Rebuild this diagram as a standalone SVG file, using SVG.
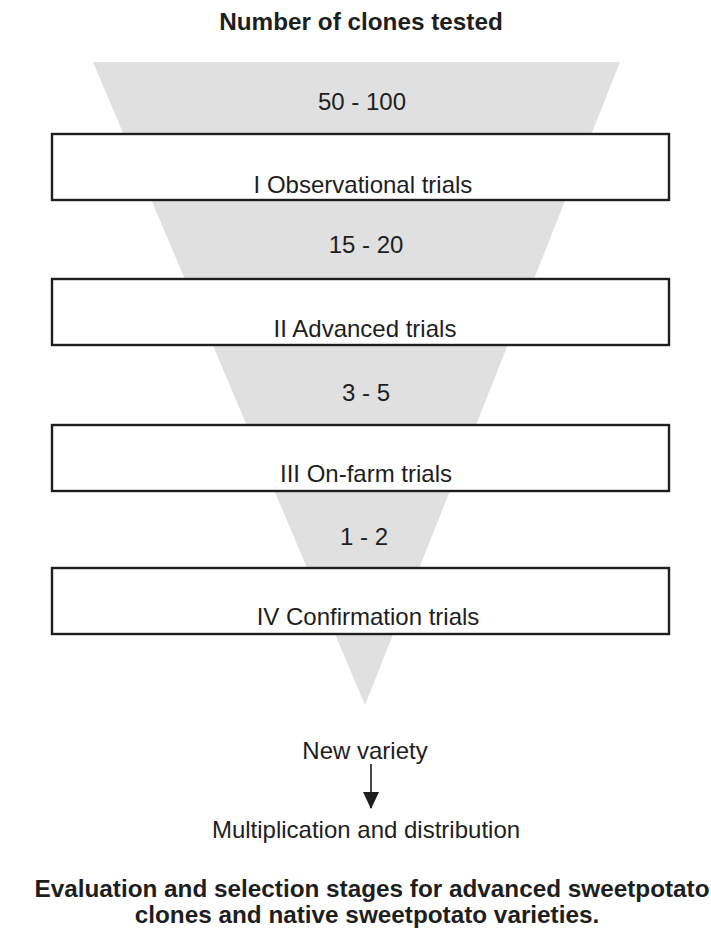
<svg xmlns="http://www.w3.org/2000/svg" width="711" height="930" viewBox="0 0 711 930">
  <style>
    text { font-family: "Liberation Sans", Arial, sans-serif; fill: #1e1e1e; text-anchor: middle; }
    .lbl { font-size: 24px; }
    .bold { font-size: 24.3px; font-weight: bold; }
    .stage { fill: #ffffff; stroke: #1e1e1e; stroke-width: 2.4; }
    .funnel { fill: #e0e0e0; }
    .conn { stroke: #1e1e1e; stroke-width: 1.6; fill: none; }
  </style>
  <defs>
    <marker id="arrow" markerWidth="18" markerHeight="16" refX="16" refY="8" orient="auto" markerUnits="userSpaceOnUse" viewBox="0 0 18 16">
      <path d="M0,0 L17,8 L0,16 Z" fill="#1e1e1e"/>
    </marker>
  </defs>

  <rect width="711" height="930" fill="#ffffff"/>

  <text id="heading" class="bold" x="361" y="30">Number of clones tested</text>

  <!-- narrowing funnel behind the stages -->
  <polygon id="funnel" class="funnel" points="93,62 620,62 365,705"/>

  <g id="count-1"><text class="lbl" x="362" y="110">50 - 100</text></g>
  <g id="stage-1">
    <rect class="stage" x="52" y="134" width="617" height="66"/>
    <text class="lbl" x="363" y="193">I Observational trials</text>
  </g>

  <g id="count-2"><text class="lbl" x="366" y="253">15 - 20</text></g>
  <g id="stage-2">
    <rect class="stage" x="52" y="279" width="617" height="66"/>
    <text class="lbl" x="365" y="337">II Advanced trials</text>
  </g>

  <g id="count-3"><text class="lbl" x="366" y="401">3 - 5</text></g>
  <g id="stage-3">
    <rect class="stage" x="52" y="425" width="617" height="66"/>
    <text class="lbl" x="366" y="482">III On-farm trials</text>
  </g>

  <g id="count-4"><text class="lbl" x="364" y="545">1 - 2</text></g>
  <g id="stage-4">
    <rect class="stage" x="52" y="568" width="617" height="66"/>
    <text class="lbl" x="368" y="625">IV Confirmation trials</text>
  </g>

  <g id="new-variety"><text class="lbl" x="365" y="759">New variety</text></g>
  <g id="distribution"><text class="lbl" x="366" y="838">Multiplication and distribution</text></g>

  <g id="connectors">
    <line class="conn" x1="371" y1="764" x2="371" y2="808" marker-end="url(#arrow)"/>
  </g>

  <g id="caption">
    <text class="bold" x="372" y="897">Evaluation and selection stages for advanced sweetpotato</text>
    <text class="bold" x="367" y="923">clones and native sweetpotato varieties.</text>
  </g>
</svg>
